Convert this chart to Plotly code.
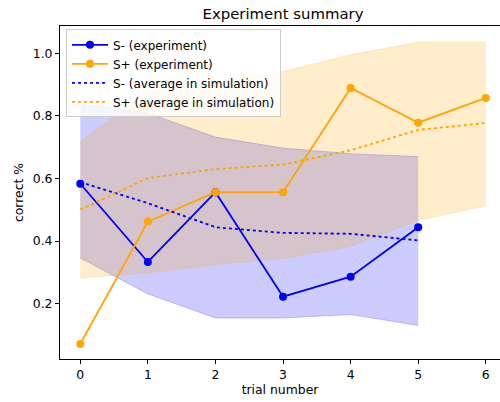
import plotly.graph_objects as go

trials_minus = [0, 1, 2, 3, 4, 5]
trials_plus = [0, 1, 2, 3, 4, 5, 6]

s_minus_exp = [0.583, 0.333, 0.556, 0.222, 0.286, 0.444]
s_plus_exp = [0.071, 0.462, 0.556, 0.556, 0.889, 0.778, 0.857]

s_minus_sim = [0.588, 0.521, 0.444, 0.426, 0.423, 0.402]
s_plus_sim = [0.500, 0.601, 0.630, 0.644, 0.690, 0.755, 0.777]

s_minus_hi = [0.838, 0.809, 0.732, 0.697, 0.679, 0.670]
s_minus_lo = [0.346, 0.231, 0.154, 0.154, 0.165, 0.130]
s_plus_hi = [0.716, 0.878, 0.910, 0.942, 0.995, 1.035, 1.035]
s_plus_lo = [0.282, 0.298, 0.325, 0.344, 0.383, 0.466, 0.513]

BLUE = "#0000ff"
ORANGE = "#ffa500"
BLUE_F = "rgba(0,0,255,0.2)"
ORANGE_F = "rgba(255,165,0,0.2)"
FONT = "DejaVu Sans"
FS = 12.4

fig = go.Figure()

# bands
fig.add_trace(go.Scatter(x=trials_minus, y=s_minus_hi, mode="lines",
                         line=dict(color=BLUE_F, width=1), showlegend=False, hoverinfo="skip"))
fig.add_trace(go.Scatter(x=trials_minus, y=s_minus_lo, mode="lines", fill="tonexty",
                         fillcolor=BLUE_F, line=dict(color=BLUE_F, width=1),
                         showlegend=False, hoverinfo="skip"))
fig.add_trace(go.Scatter(x=trials_plus, y=s_plus_hi, mode="lines",
                         line=dict(color=ORANGE_F, width=1), showlegend=False, hoverinfo="skip"))
fig.add_trace(go.Scatter(x=trials_plus, y=s_plus_lo, mode="lines", fill="tonexty",
                         fillcolor=ORANGE_F, line=dict(color=ORANGE_F, width=1),
                         showlegend=False, hoverinfo="skip"))

# lines
fig.add_trace(go.Scatter(x=trials_minus, y=s_minus_exp, mode="lines+markers",
                         name="S- (experiment)", line=dict(color=BLUE, width=1.85),
                         marker=dict(color=BLUE, size=8)))
fig.add_trace(go.Scatter(x=trials_plus, y=s_plus_exp, mode="lines+markers",
                         name="S+ (experiment)", line=dict(color=ORANGE, width=1.85),
                         marker=dict(color=ORANGE, size=8)))
fig.add_trace(go.Scatter(x=trials_minus, y=s_minus_sim, mode="lines",
                         name="S- (average in simulation)",
                         line=dict(color=BLUE, width=1.85, dash="dot")))
fig.add_trace(go.Scatter(x=trials_plus, y=s_plus_sim, mode="lines",
                         name="S+ (average in simulation)",
                         line=dict(color=ORANGE, width=1.85, dash="dot")))

fig.update_layout(
    width=500, height=402,
    margin=dict(l=60, r=0, t=26, b=43),
    paper_bgcolor="white", plot_bgcolor="white",
    font=dict(family=FONT, size=FS, color="black"),
    title=dict(text="Experiment summary", x=0.566, xanchor="center",
               xref="container", yref="container", y=1 - 14 / 402, yanchor="middle",
               font=dict(family=FONT, size=14.9, color="black")),
    legend=dict(x=0.0136, y=0.99, xanchor="left", yanchor="top", traceorder="normal",
                bgcolor="rgba(255,255,255,0.8)", bordercolor="#cccccc", borderwidth=1,
                font=dict(family=FONT, size=12), tracegroupgap=0, itemwidth=36),
    showlegend=True,
)
fig.update_xaxes(range=[-0.3, 6.21], tickmode="array", tickvals=[0, 1, 2, 3, 4, 5, 6],
                 showgrid=False, zeroline=False, showline=True, linecolor="black",
                 linewidth=1, mirror=True, ticks="outside", ticklen=4, tickcolor="black",
                 tickfont=dict(size=FS),
                 title=dict(text="trial number", standoff=4, font=dict(size=FS)))
fig.update_yaxes(range=[0.023, 1.087], tickmode="array", tickvals=[0.2, 0.4, 0.6, 0.8, 1.0],
                 tickformat=".1f", showgrid=False, zeroline=False, showline=True,
                 linecolor="black", linewidth=1, ticks="outside", ticklen=4, tickcolor="black",
                 tickfont=dict(size=FS),
                 title=dict(text="correct %", standoff=6, font=dict(size=FS)))

fig.write_html("out.html")
